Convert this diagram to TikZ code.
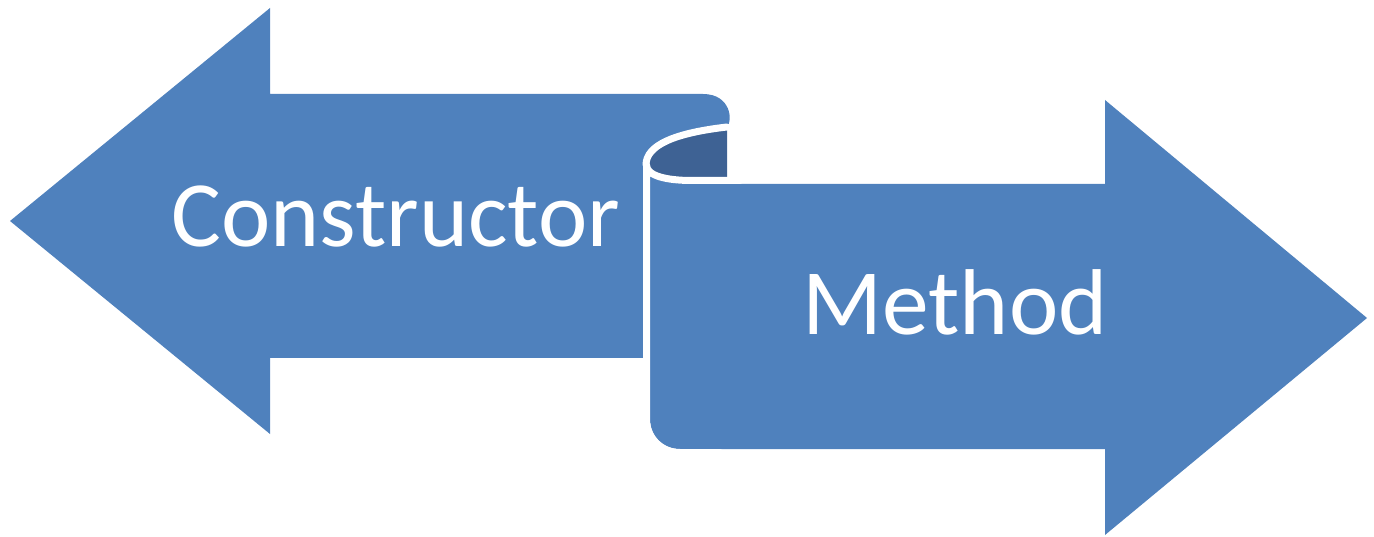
\documentclass[tikz,border=0pt]{standalone}
\usepackage{fontspec}
\setmainfont{Carlito}
\definecolor{banblue}{HTML}{4F81BD}
\definecolor{curldark}{HTML}{3E6294}
\begin{document}
\begin{tikzpicture}[x=1pt,y=-1pt,
  bandfill/.style={fill=banblue,draw=none},
  whiteline/.style={draw=white,line width=7pt,line cap=round,line join=round},
  label/.style={text=white,font=\fontsize{93.5}{100}\selectfont,inner sep=0pt,anchor=base}]
\useasboundingbox (0,0) rectangle (1374,537);
% left arrow
\path[bandfill] (10,221) -- (270,8) -- (270,94) -- (703,94)
  .. controls (731,94) and (733,121) .. (727,127)
  .. controls (675,133) and (646,145) .. (646,165)
  -- (646,358) -- (270,358) -- (270,434) -- cycle;
% dark inside of the curl
\path[fill=curldark] (727,127) .. controls (675,133) and (646,145) .. (646,165)
  -- (646,192) -- (727,192) -- cycle;
\draw[whiteline] (727,127) .. controls (675,133) and (646,145) .. (646,165);
% right arrow
\path[bandfill] (650,165) -- (650,419) .. controls (650,436) and (663,449) .. (680,449)
  -- (1105,449) -- (1105,535) -- (1367,318) -- (1105,100) -- (1105,184)
  -- (692,184) .. controls (665,184) and (650,178) .. (650,165) -- cycle;
\draw[whiteline] (740,180.5) -- (692,180.5) .. controls (667,180.5) and (646.5,176) .. (646.5,165)
  -- (646.5,419) .. controls (646.5,438) and (661,452.5) .. (680,452.5) -- (720,452.5);
\node[label] (ctor) at (396,247) {Constructor};
\node[label] (meth) at (955,335) {Method};
\end{tikzpicture}
\end{document}
